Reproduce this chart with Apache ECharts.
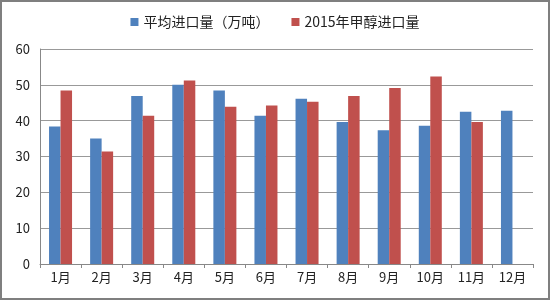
<!DOCTYPE html>
<html>
<head>
<meta charset="utf-8">
<script src="https://cdn.jsdelivr.net/npm/echarts@6/dist/echarts.min.js"></script>
<style>
  html, body { margin: 0; padding: 0; background: #fff; }
  #main { width: 550px; height: 300px; box-sizing: border-box; border: 2px solid #7f7f7f; }
</style>
</head>
<body>
<div id="main"></div>
<script>
// 月份
var months = ['1月', '2月', '3月', '4月', '5月', '6月', '7月', '8月', '9月', '10月', '11月', '12月'];
// 平均进口量（万吨）
var avgImport = [38.4, 35.0, 46.9, 50.0, 48.4, 41.4, 46.1, 39.6, 37.3, 38.6, 42.5, 42.8];
// 2015年甲醇进口量，12月没有数据
var import2015 = [48.4, 31.4, 41.4, 51.2, 43.9, 44.2, 45.3, 46.9, 49.1, 52.3, 39.6, null];

var chart = echarts.init(document.getElementById('main'), null, { renderer: 'canvas' });

var option = {
  animation: false,
  textStyle: { fontFamily: '"Noto Sans CJK SC", sans-serif' },
  legend: {
    top: 8,
    left: 'center',
    icon: 'rect',
    itemWidth: 8,
    itemHeight: 8,
    itemGap: 22,
    textStyle: { fontSize: 14, color: '#222' },
    data: ['平均进口量（万吨）', '2015年甲醇进口量']
  },
  grid: { left: 38, right: 15, top: 47, bottom: 34 },
  xAxis: {
    type: 'category',
    data: months,
    axisLine: { lineStyle: { color: '#888' } },
    axisTick: { show: true, length: 4, lineStyle: { color: '#888' } },
    axisLabel: { fontSize: 13, color: '#222', margin: 7 }
  },
  yAxis: {
    type: 'value',
    min: 0,
    max: 60,
    interval: 10,
    axisLine: { show: true, lineStyle: { color: '#888' } },
    axisTick: { show: false },
    axisLabel: { fontSize: 13, color: '#222', margin: 10 },
    splitLine: { lineStyle: { color: '#999' } }
  },
  series: [{
    name: '平均进口量（万吨）',
    type: 'bar',
    data: avgImport,
    barGap: 0,
    barCategoryGap: '44%',
    itemStyle: { color: '#4f81bd' }
  }, {
    name: '2015年甲醇进口量',
    type: 'bar',
    data: import2015,
    barGap: 0,
    barCategoryGap: '44%',
    itemStyle: { color: '#c0504d' }
  }]
};

chart.setOption(option);
</script>
</body>
</html>
